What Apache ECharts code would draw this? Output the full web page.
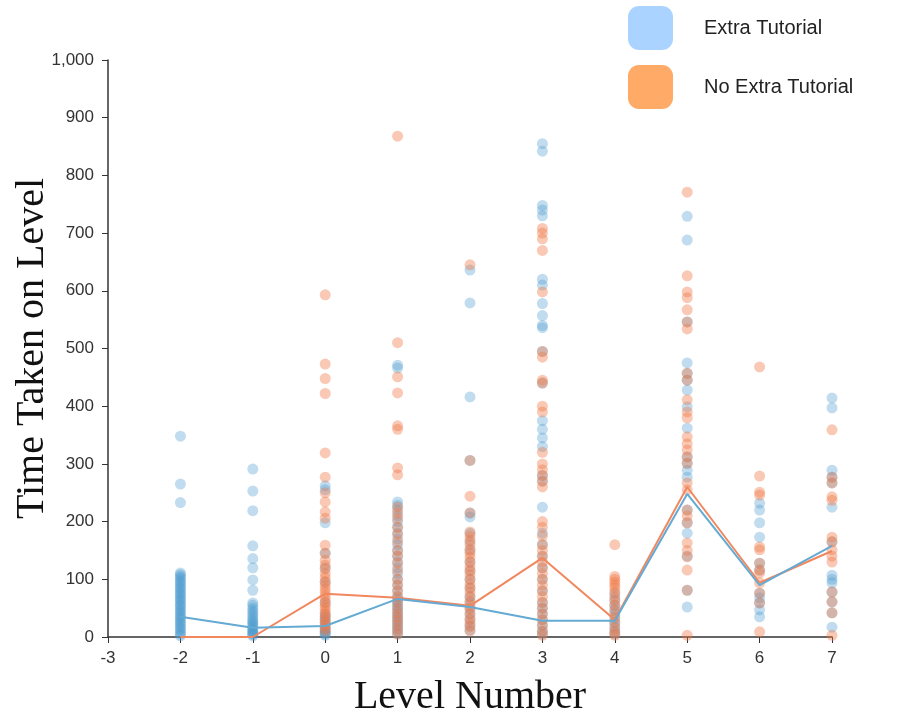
<!DOCTYPE html>
<html>
<head>
<meta charset="utf-8">
<script src="https://cdn.jsdelivr.net/npm/echarts@6/dist/echarts.min.js"></script>
<style>
html,body{margin:0;padding:0;background:#fff;}
#chart{width:897px;height:715px;}
</style>
</head>
<body>
<div id="chart"></div>
<script>
// Levels (x categories, numeric)
const levels = [-2, -1, 0, 1, 2, 3, 4, 5, 6, 7];

// Extra Tutorial: individual times per level
const extra_m2 = [348,265,233,111,108,105,102,98,95,92,88,85,82,78,75,72,68,65,62,58,55,52,48,45,42,38,35,32,28,25,22,18,15,12,8,5,2];
const extra_m1 = [291,253,219,158,136,120,99,81,59,55,50,46,42,38,34,30,27,24,21,18,15,12,10,8,6,4,2];
const extra_0  = [262,255,198,145,120,95,60,40,35,30,25,20,15,12,9,7,5,3];
const extra_1  = [471,466,234,228,220,210,200,190,180,170,160,150,140,130,120,110,100,90,80,70,65,60,55,50,45,40,35,30,25,20,15,10,5];
const extra_2  = [636,579,416,306,215,208,180,165,150,130,115,100,85,70,60,50,40,30,20,12];
const extra_3  = [855,842,748,740,730,620,610,578,557,540,536,495,440,375,360,345,330,280,270,225,180,160,140,120,100,80,60,50,40,30,20,10,5];
const extra_4  = [75,65,55,48,40,32,25,18,10,5];
const extra_5  = [729,688,546,475,457,445,428,399,362,312,301,289,277,220,198,180,140,81,52];
const extra_6  = [232,220,198,173,128,116,76,68,59,47,35];
const extra_7  = [414,397,289,277,267,225,165,107,100,94,78,61,42,17];

// No Extra Tutorial: individual times per level
const noextra_m2 = [];
const noextra_m1 = [];
const noextra_0  = [593,473,448,422,319,277,250,234,217,206,159,145,133,125,118,110,103,96,90,84,78,72,66,60,55,50,45,40,35,30,25,20,15,10];
const noextra_1  = [868,510,451,423,366,360,293,281,225,215,205,190,178,165,150,140,128,115,100,90,80,70,60,50,42,35,28,20,12,5];
const noextra_2  = [645,306,244,215,182,175,168,160,152,145,138,130,122,115,108,100,92,85,78,70,62,55,48,40,32,25,18,10];
const noextra_3  = [708,700,690,670,598,495,485,445,440,400,390,320,300,290,280,270,260,200,190,175,160,150,140,130,120,110,100,90,80,70,60,50,40,30,20,10,3];
const noextra_4  = [160,105,100,95,90,85,78,70,62,55,45,35,25,15,8,3];
const noextra_5  = [771,626,598,588,567,546,534,457,445,411,390,380,347,335,324,312,301,267,255,220,210,198,163,150,139,116,81,3];
const noextra_6  = [468,279,251,246,156,151,128,116,111,94,76,59,9];
const noextra_7  = [359,277,267,243,237,173,165,151,140,130,78,61,42,3];

// Mean lines per level
const extraMean   = [35,16,19,66,52,28,28,248,90,158];
const noExtraMean = [0,0,75,68,54,137,30,260,94,149];

const extraByLevel = [extra_m2,extra_m1,extra_0,extra_1,extra_2,extra_3,extra_4,extra_5,extra_6,extra_7];
const noExtraByLevel = [noextra_m2,noextra_m1,noextra_0,noextra_1,noextra_2,noextra_3,noextra_4,noextra_5,noextra_6,noextra_7];

function toPairs(byLevel){
  const out = [];
  byLevel.forEach((arr,i)=>arr.forEach(v=>out.push([levels[i], v])));
  return out;
}

const chart = echarts.init(document.getElementById('chart'), null, {renderer:'canvas'});
const axisCol = '#333';
const sans = 'Liberation Sans, Arial, sans-serif';
const serif = 'Liberation Serif, Times New Roman, serif';
chart.setOption({
  animation:false,
  backgroundColor:'#fff',
  grid:{left:108,right:65,top:60,bottom:78,containLabel:false,outerBoundsMode:'none'},
  legend:{
    orient:'vertical',
    left:628, top:6, padding:0,
    itemWidth:45, itemHeight:44, itemGap:15,
    textStyle:{fontSize:20,color:'#222',fontFamily:sans,padding:[0,0,0,26]},
    selectedMode:false,
    data:[
      {name:'Extra Tutorial',icon:'roundRect',itemStyle:{color:'#aad4ff',opacity:1}},
      {name:'No Extra Tutorial',icon:'roundRect',itemStyle:{color:'#ffaa66',opacity:1}}
    ]
  },
  xAxis:{
    type:'value', min:-3, max:7, interval:1,
    name:'Level Number', nameLocation:'middle', nameGap:40, nameMoveOverlap:false,
    nameTextStyle:{fontFamily:serif,fontSize:40,color:'#111',verticalAlign:'top'},
    axisLine:{show:true,onZero:false,lineStyle:{color:axisCol,width:1.5}},
    axisTick:{show:true,length:6,lineStyle:{color:axisCol}},
    axisLabel:{fontSize:17,color:'#333',fontFamily:sans,margin:13},
    splitLine:{show:false}
  },
  yAxis:{
    type:'value', min:0, max:1000, interval:100,
    name:'Time Taken on Level', nameLocation:'middle', nameGap:56, nameMoveOverlap:false,
    nameTextStyle:{fontFamily:serif,fontSize:40,color:'#111'},
    axisLine:{show:true,onZero:false,lineStyle:{color:axisCol,width:1.5}},
    axisTick:{show:true,length:6,lineStyle:{color:axisCol}},
    axisLabel:{fontSize:17,color:'#333',fontFamily:sans,margin:14,
      formatter:v=>v.toLocaleString('en-US')},
    splitLine:{show:false}
  },
  series:[
    {name:'Extra Tutorial',type:'scatter',symbolSize:11,data:toPairs(extraByLevel),
      itemStyle:{color:'rgb(75,155,205)',opacity:0.35},z:2},
    {name:'No Extra Tutorial',type:'scatter',symbolSize:11,data:toPairs(noExtraByLevel),
      itemStyle:{color:'rgb(240,120,70)',opacity:0.4},z:2},
    {name:'No Extra Tutorial mean',type:'line',data:levels.map((l,i)=>[l,noExtraMean[i]]),
      symbol:'none',lineStyle:{color:'rgb(240,135,95)',width:2},z:3},
    {name:'Extra Tutorial mean',type:'line',data:levels.map((l,i)=>[l,extraMean[i]]),
      symbol:'none',lineStyle:{color:'rgb(100,170,210)',width:2},z:4}
  ]
});
</script>
</body>
</html>
